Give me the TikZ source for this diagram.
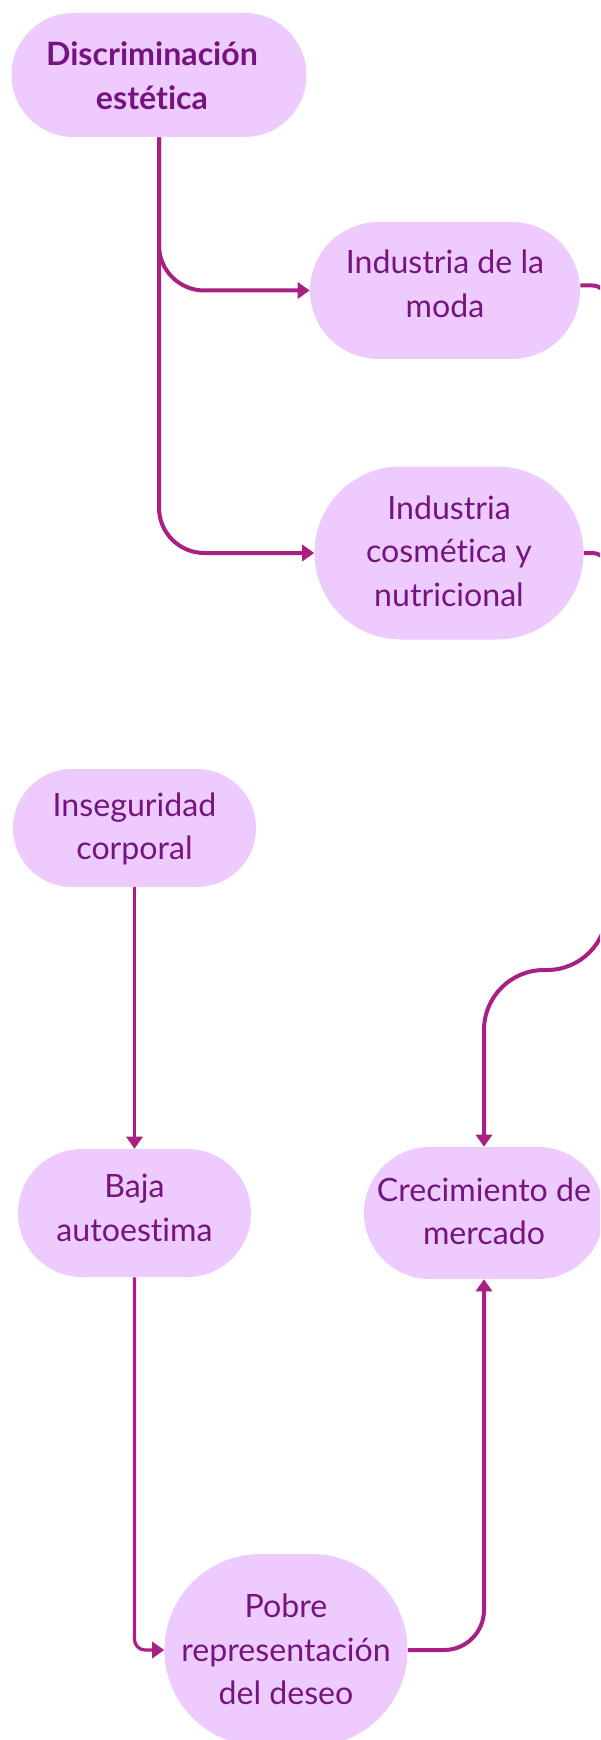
\documentclass[tikz,border=0pt]{standalone}
\usepackage{fontspec}
\setmainfont{Lato}[Ligatures=NoCommon]
\usetikzlibrary{arrows.meta}
\definecolor{nodefill}{HTML}{EECBFE}
\definecolor{txt}{HTML}{75147F}
\definecolor{lnk}{HTML}{AA1F82}
% line strut: height 25.6pt, depth 6.94pt (+ optional extra depth)
\newcommand\ls[1][0pt]{\rule[\dimexpr-6.94pt-#1\relax]{0pt}{\dimexpr32.54pt+#1\relax}}
\tikzset{
  box/.style={fill=nodefill, text=txt, inner sep=0pt, align=center,
    font=\fontsize{24.1}{32.6}\selectfont},
  conn/.style={draw=lnk, line width=3pt, line join=round,
    -{Triangle[length=9pt,width=12pt]}},
  thinconn/.style={conn, line width=2.4pt},
  plainlink/.style={draw=lnk, line width=3pt}
}
\begin{document}
\begin{tikzpicture}[x=0.75pt,y=-0.75pt]
\clip (0,0) rectangle (600,1740);
\fill[white] (0,0) rectangle (600,1740);
% nodes
\node[box, font=\fontsize{24.1}{32.6}\selectfont\bfseries, minimum width=221.25pt, minimum height=93pt, rounded corners=46.4pt] (disc) at (159,75) {\hspace*{-10.5pt}\ls Discriminación\\\hspace*{-10.5pt}\ls estética};
\node[box, minimum width=202.5pt, minimum height=102.75pt, rounded corners=51.3pt] (moda) at (445,290.5) {\ls Industria de la\\\ls[11.25pt]moda};
\node[box, minimum width=201.75pt, minimum height=129.75pt, rounded corners=64.8pt] (cosm) at (449,553) {\ls Industria\\\ls cosmética y\\\ls[4pt]nutricional};
\node[box, minimum width=182.25pt, minimum height=88.5pt, rounded corners=44.2pt] (inseg) at (134.5,828) {\ls Inseguridad\\\ls[3.9pt]corporal};
\node[box, minimum width=174.75pt, minimum height=96pt, rounded corners=47.9pt] (baja) at (134.5,1213) {\ls Baja\\\ls[9pt]autoestima};
\node[box, minimum width=180pt, minimum height=99pt, rounded corners=49.4pt] (crec) at (484,1213) {\ls Crecimiento de\\\ls[3.9pt]mercado};
\node[box, minimum width=182.25pt, minimum height=144pt, rounded corners=71.9pt] (pobre) at (286,1650) {\ls Pobre\\\ls representación\\\ls[2pt]del deseo};
% corner coordinates
\coordinate (c1) at (607,285.5);
\coordinate (c2) at (607,970);
\coordinate (c3) at (484,970);
\coordinate (c4) at (607,760);
% connectors
\draw[conn, rounded corners=34pt] (disc.south) |- (moda.west);
\draw[conn, rounded corners=34pt] (disc.south) |- (cosm.west);
\draw[conn] ([yshift=3.75pt]moda.east) [rounded corners=11pt] -- (c1) [rounded corners=45pt] -- (c2) -- (c3) -- (crec.north);
\draw[plainlink, rounded corners=11pt] (cosm.east) -- (cosm.east -| c1) -- (c4);
\draw[thinconn] (inseg.south) -- (baja.north);
\draw[thinconn, rounded corners=8pt] (baja.south) |- (pobre.west);
\draw[conn, rounded corners=30pt] (pobre.east) -| (crec.south);
\end{tikzpicture}
\end{document}
